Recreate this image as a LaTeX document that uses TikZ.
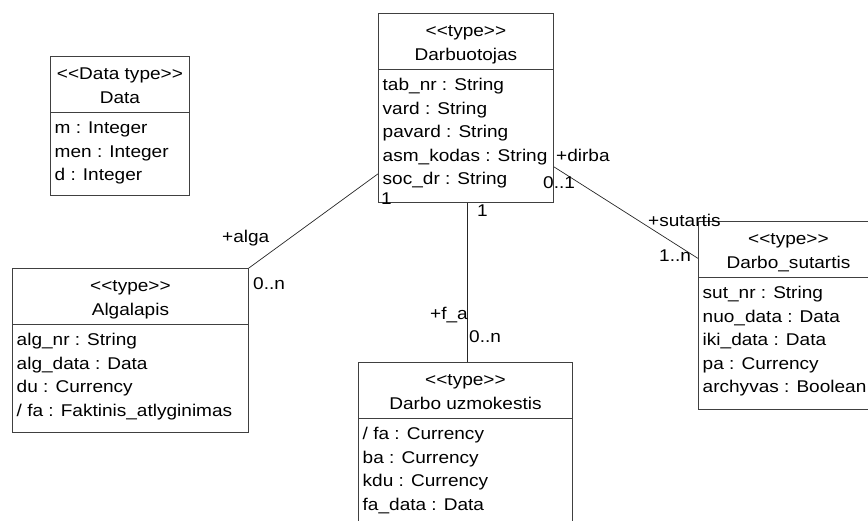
\documentclass[tikz,border=0pt]{standalone}
\usepackage{fontspec}
\setmainfont{Liberation Sans}[FakeStretch=1.12, Ligatures=TeXOff]
\usetikzlibrary{calc}

\tikzset{
  umlbox/.style={draw=black!75, line width=0.9pt, rectangle, inner sep=0pt,
    anchor=north west, fill=white},
  divider/.style={draw=black!75, line width=0.9pt},
  headtxt/.style={inner sep=0pt, anchor=base, font=\fontsize{17}{20}\selectfont},
  attrtxt/.style={inner sep=0pt, anchor=base west, font=\fontsize{17}{20}\selectfont},
  roletxt/.style={inner sep=0pt, anchor=base west, font=\fontsize{17}{20}\selectfont},
  assoc/.style={draw=black!85, line width=0.7pt},
}

% One UML class: box name, top-left corner, size, stereotype, class name
\newcommand{\umlclass}[6]{%
  \node[umlbox, minimum width=#3pt, minimum height=#4pt] (#1) at #2 {};
  \node[headtxt] (#1-st) at ($(#1.north)+(0,24)$) {#5};
  \node[headtxt] (#1-nm) at ($(#1.north)+(0,47.5)$) {#6};
  \draw[divider] ($(#1.north west)+(0,56.5)$) -- ($(#1.north east)+(0,56.5)$);
}
% Attribute lines of a class, one per row below the divider
\newcommand{\umlattrs}[2]{%
  \foreach \t [count=\i] in {#2}{
    \node[attrtxt] (#1-a\i) at ($(#1.north west)+(4.5,77.5+23.6*\i-23.6)$) {\t};
  }
}

\begin{document}
\begin{tikzpicture}[x=1pt, y=-1pt]
\useasboundingbox (0,0) rectangle (868,521);
\clip (0,0) rectangle (868,521);

% classes
\umlclass{data}{(50,56)}{139}{139}{<<Data type>>}{Data}
\umlattrs{data}{m : Integer, men : Integer, d : Integer}

\umlclass{darb}{(378,13)}{175}{189}{<<type>>}{Darbuotojas}
\umlattrs{darb}{tab\_nr : String, vard : String, pavard : String,
  asm\_kodas : String, soc\_dr : String}

\umlclass{alg}{(12,268)}{236}{164}{<<type>>}{Algalapis}
\umlattrs{alg}{alg\_nr : String, alg\_data : Data, du : Currency,
  / fa : Faktinis\_atlyginimas}

\umlclass{uzm}{(358,362)}{214}{200}{<<type>>}{Darbo uzmokestis}
\umlattrs{uzm}{/ fa : Currency, ba : Currency, kdu : Currency, fa\_data : Data}

\umlclass{sut}{(698,221)}{180}{188}{<<type>>}{Darbo\_sutartis}
\umlattrs{sut}{sut\_nr : String, nuo\_data : Data, iki\_data : Data,
  pa : Currency, archyvas : Boolean}

% associations
\draw[assoc] ($(darb.north west)!0.847!(darb.south west)$) -- (alg.north east);
\draw[assoc] ($(darb.south)+(1.5,0)$) -- ($(darb.south |- uzm.north)+(1.5,0)$);
\draw[assoc] ($(darb.north east)!0.81!(darb.south east)$) --
             ($(sut.north west)!0.198!(sut.south west)$);

% role names and multiplicities
\node[roletxt] (r-alga) at (222,243) {+alga};
\node[roletxt] (m-alg) at (253,290) {0..n};
\node[roletxt] (m-darb1) at (381,205) {1};
\node[roletxt] (m-darb2) at (477,217) {1};
\node[roletxt] (r-fa) at (430,320) {+f\_a};
\node[roletxt] (m-uzm) at (469,343) {0..n};
\node[roletxt] (r-dirba) at (556,162) {+dirba};
\node[roletxt] (m-darb3) at (543,189) {0..1};
\node[roletxt] (r-sut) at (648,227) {+sutartis};
\node[roletxt] (m-sut) at (659,262) {1..n};
\end{tikzpicture}
\end{document}
